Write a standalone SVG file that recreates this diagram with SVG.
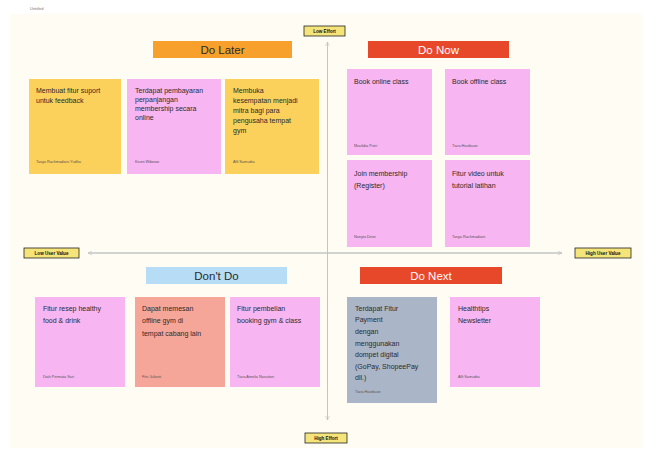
<svg xmlns="http://www.w3.org/2000/svg" width="650" height="459" viewBox="0 0 650 459">
<defs>
<style>
text{font-family:"Liberation Sans",Arial,sans-serif;fill:#2b2b2b}
.t{font-size:7px}
.f{font-size:3.8px;fill:#555}
.h{font-size:11.5px;text-anchor:middle}
.hw{font-size:11.5px;text-anchor:middle;fill:#fff}
.lb{fill:#f5e47a;stroke:#222;stroke-width:0.8}
.lt{font-size:4.6px;font-weight:bold;text-anchor:middle;fill:#111}
.y{fill:#fbd15b}
.p{fill:#f7b6f2}
.s{fill:#f6a698}
.g{fill:#abb5c8}
.ax{stroke:#c4c4c4;stroke-width:1;fill:none}
</style>
<marker id="ar" viewBox="0 0 6 6" refX="5" refY="3" markerWidth="5" markerHeight="5" orient="auto"><path d="M0,0.5 L5,3 L0,5.5" fill="none" stroke="#c4c4c4" stroke-width="0.8"/></marker>
</defs>
<rect width="650" height="459" fill="#fff"/>
<rect x="10" y="14" width="632" height="434" fill="#fffdf3"/>
<text x="30" y="10" style="font-size:4px;fill:#777">Untitled</text>

<g id="connectors">
<line class="ax" x1="327.5" y1="420" x2="327.5" y2="42" marker-end="url(#ar)"/>
<line class="ax" x1="327.5" y1="42" x2="327.5" y2="420" marker-end="url(#ar)"/>
<line class="ax" x1="88" y1="253" x2="562" y2="253" marker-end="url(#ar)"/>
<line class="ax" x1="562" y1="253" x2="88" y2="253" marker-end="url(#ar)"/>
</g>

<g id="label-low-effort"><rect class="lb" x="304" y="26" width="41" height="10"/><text class="lt" x="324.5" y="33">Low Effort</text></g>
<g id="label-high-effort"><rect class="lb" x="305" y="433" width="42" height="10"/><text class="lt" x="326" y="440">High Effort</text></g>
<g id="label-low-value"><rect class="lb" x="24" y="248" width="55" height="10"/><text class="lt" x="51.5" y="255">Low User Value</text></g>
<g id="label-high-value"><rect class="lb" x="575" y="248" width="56" height="10"/><text class="lt" x="603" y="255">High User Value</text></g>

<g id="header-do-later"><rect x="153" y="41" width="139" height="17" fill="#f8a02c"/><text class="h" x="222.5" y="53.5">Do Later</text></g>
<g id="header-do-now"><rect x="368" y="41" width="141" height="17" fill="#e8482a"/><text class="hw" x="438.5" y="53.5">Do Now</text></g>
<g id="header-dont-do"><rect x="146" y="267" width="141" height="17" fill="#b6ddf5"/><text class="h" x="216.5" y="279.5">Don't Do</text></g>
<g id="header-do-next"><rect x="360" y="267" width="142" height="17" fill="#e8482a"/><text class="hw" x="431" y="279.5">Do Next</text></g>

<g id="card-fitur-suport"><rect class="y" x="29" y="79" width="92" height="95"/>
<text class="t" x="36" y="93">Membuat fitur suport</text><text class="t" x="36" y="103">untuk feedback</text>
<text class="f" x="36" y="163">Tasya Rachmadiani Yudha</text></g>

<g id="card-pembayaran"><rect class="p" x="127" y="79" width="94" height="95"/>
<text class="t" x="135" y="93">Terdapat pembayaran</text><text class="t" x="135" y="102">perpanjangan</text><text class="t" x="135" y="111">membership secara</text><text class="t" x="135" y="120">online</text>
<text class="f" x="135" y="163">Kevin Wibowo</text></g>

<g id="card-mitra"><rect class="y" x="225" y="79" width="94" height="95"/>
<text class="t" x="233" y="93">Membuka</text><text class="t" x="233" y="103">kesempatan menjadi</text><text class="t" x="233" y="113">mitra bagi para</text><text class="t" x="233" y="123">pengusaha tempat</text><text class="t" x="233" y="133">gym</text>
<text class="f" x="233" y="163">Alfi Samudra</text></g>

<g id="card-book-online"><rect class="p" x="347" y="69" width="85" height="86"/>
<text class="t" x="354" y="84">Book online class</text>
<text class="f" x="354" y="147">Maulidia Putri</text></g>

<g id="card-book-offline"><rect class="p" x="445" y="69" width="85" height="86"/>
<text class="t" x="452" y="84">Book offline class</text>
<text class="f" x="452" y="147">Tiara Hasibuan</text></g>

<g id="card-join-membership"><rect class="p" x="347" y="160" width="85" height="87"/>
<text class="t" x="354" y="176">Join membership</text><text class="t" x="354" y="188">(Register)</text>
<text class="f" x="354" y="238">Nanyta Dewi</text></g>

<g id="card-fitur-video"><rect class="p" x="445" y="160" width="85" height="87"/>
<text class="t" x="452" y="176">Fitur video untuk</text><text class="t" x="452" y="188">tutorial latihan</text>
<text class="f" x="452" y="238">Tasya Rachmadiani</text></g>

<g id="card-resep"><rect class="p" x="35" y="297" width="90" height="90"/>
<text class="t" x="43" y="311">Fitur resep healthy</text><text class="t" x="43" y="323">food &amp; drink</text>
<text class="f" x="43" y="378">Diah Permata Sari</text></g>

<g id="card-memesan"><rect class="s" x="135" y="297" width="90" height="90"/>
<text class="t" x="142" y="311">Dapat memesan</text><text class="t" x="142" y="323">offline gym di</text><text class="t" x="142" y="336">tempat cabang lain</text>
<text class="f" x="142" y="378">Fitri Julianti</text></g>

<g id="card-pembelian"><rect class="p" x="230" y="297" width="90" height="90"/>
<text class="t" x="237" y="311">Fitur pembelian</text><text class="t" x="237" y="323">booking gym &amp; class</text>
<text class="f" x="237" y="378">Tiara Amelia Nasution</text></g>

<g id="card-payment"><rect class="g" x="347" y="297" width="90" height="106"/>
<text class="t" x="355" y="311">Terdapat Fitur</text><text class="t" x="355" y="322">Payment</text><text class="t" x="355" y="334">dengan</text><text class="t" x="355" y="346">menggunakan</text><text class="t" x="355" y="357">dompet digital</text><text class="t" x="355" y="369">(GoPay, ShopeePay</text><text class="t" x="355" y="380">dll.)</text>
<text class="f" x="355" y="393">Tiara Hasibuan</text></g>

<g id="card-newsletter"><rect class="p" x="450" y="297" width="90" height="90"/>
<text class="t" x="458" y="311">Healthtips</text><text class="t" x="458" y="323">Newsletter</text>
<text class="f" x="458" y="378">Alfi Samudra</text></g>
</svg>
